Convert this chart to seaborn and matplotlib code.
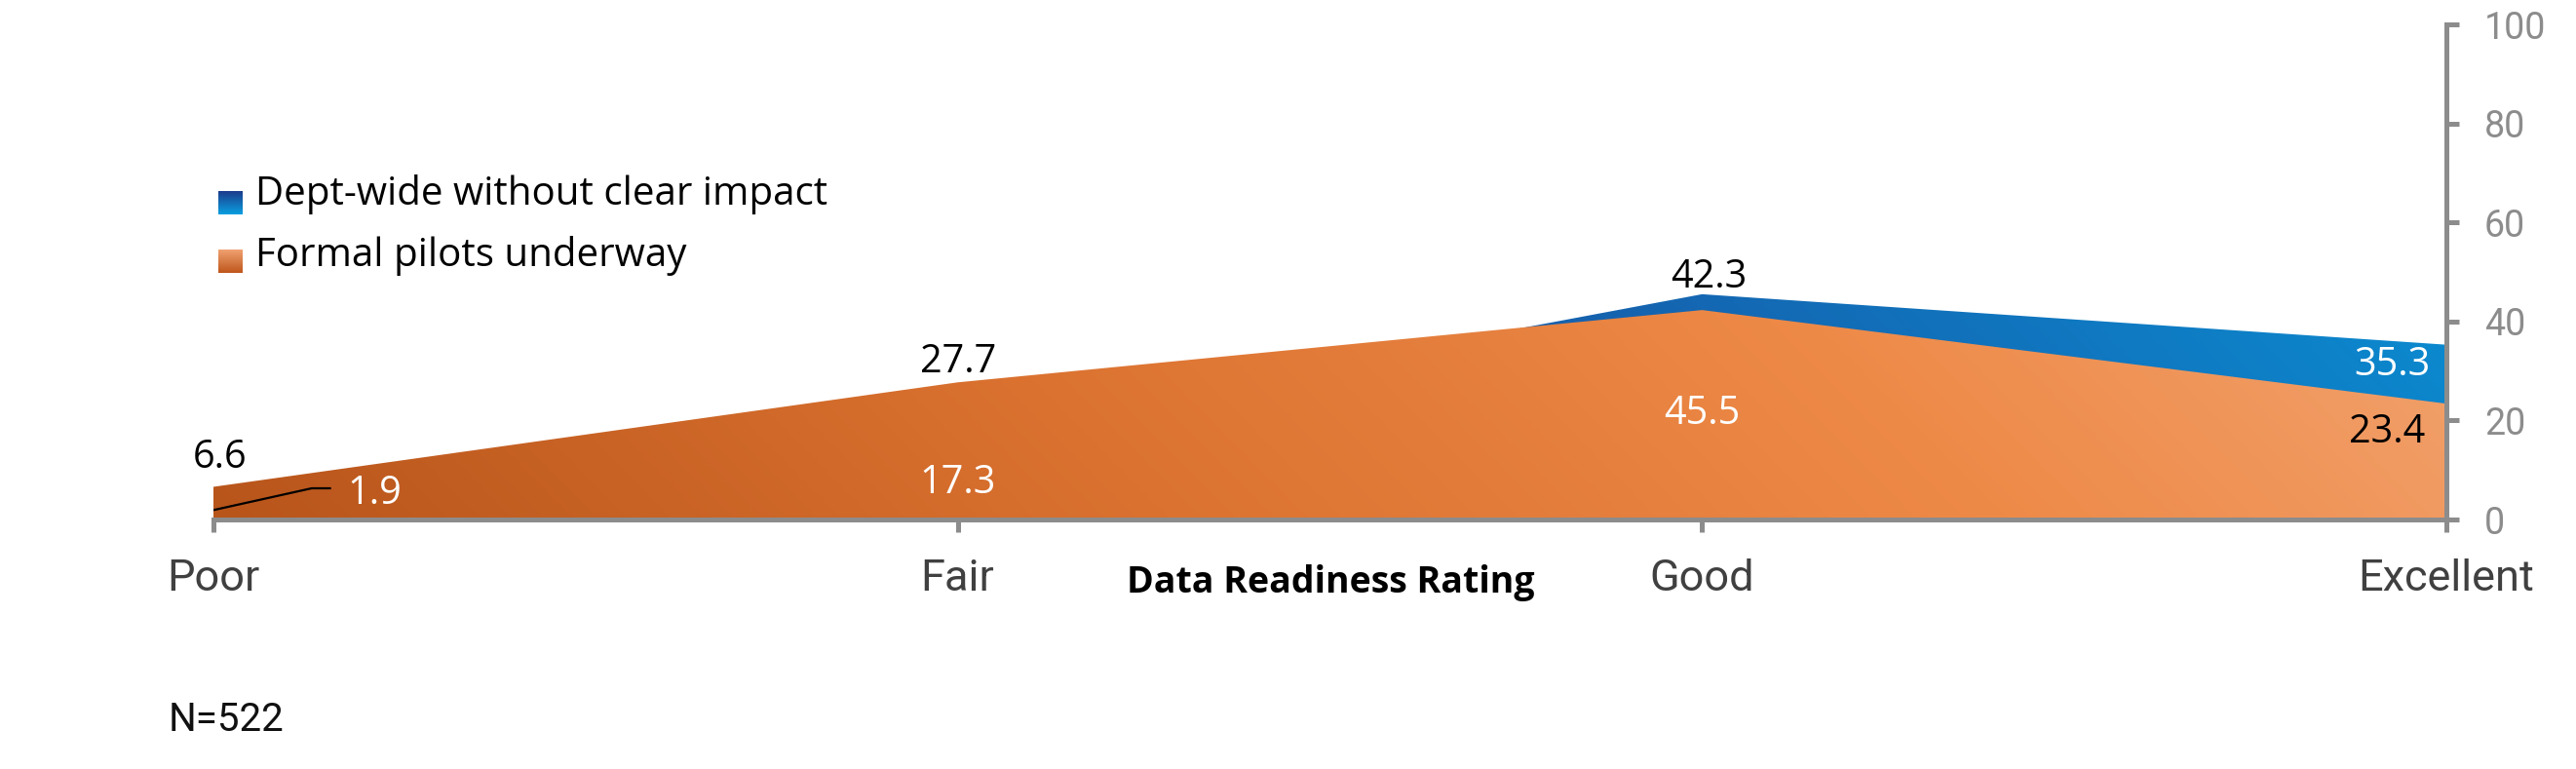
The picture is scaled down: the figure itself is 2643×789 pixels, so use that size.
import numpy as np
import pandas as pd
import matplotlib
matplotlib.use("Agg")
import matplotlib.pyplot as plt
import seaborn as sns
from matplotlib.colors import LinearSegmentedColormap

# ---------------- data ----------------
categories = ["Poor", "Fair", "Good", "Excellent"]
series_names = ["Dept-wide without clear impact", "Formal pilots underway"]
dept_wide = [1.9, 17.3, 45.5, 35.3]
formal_pilots = [6.6, 27.7, 42.3, 23.4]
y_ticks = [0, 20, 40, 60, 80, 100]
x_title = "Data Readiness Rating"
note_text = "N=522"

# label placement (data coords: x, baseline y, ha, colour)
dept_label_pos = [(0.180, 3.1, "left", "white"), (1.0, 5.3, "center", "white"),
                  (2.0, 19.3, "center", "white"), (2.979, 29.1, "right", "white")]
formal_label_pos = [(0.009, 10.4, "center", "black"), (1.0, 29.7, "center", "black"),
                    (2.009, 46.8, "center", "black"), (2.972, 15.5, "right", "black")]

# ---------------- style ----------------
sns.set_theme(style="white")
plt.rcParams["font.family"] = ["Roboto", "DejaVu Sans"]

W, H = 2643, 789
fig = plt.figure(figsize=(W / 100, H / 100), dpi=100)
ax = fig.add_axes([219 / W, 1 - 533 / H, (2510 - 219) / W, (533 - 25) / H])

pos = np.arange(len(categories))
df = pd.DataFrame({
    "pos": np.tile(pos, 2),
    "value": dept_wide + formal_pilots,
    "series": np.repeat(series_names, len(categories)),
})
sns.lineplot(data=df, x="pos", y="value", hue="series",
             palette=["#1565B0", "#E8803F"], linewidth=0, legend=False, ax=ax)

blue_cmap = LinearSegmentedColormap.from_list(
    "b", [(0, "#1E3F8E"), (0.6, "#1564B0"), (1, "#0897DA")])
orange_cmap = LinearSegmentedColormap.from_list(
    "o", [(0, "#B8551B"), (0.35, "#DB7230"), (0.66, "#EE8A48"), (1, "#F3AB7C")])


def gradient_area(name, cmap, zorder):
    sub = df[df["series"] == name]
    poly = ax.fill_between(sub["pos"], 0, sub["value"], facecolor="none",
                           edgecolor="none", zorder=zorder)
    X, Y = np.meshgrid(np.linspace(0, 1, 600), np.linspace(0, 1, 300))
    Z = 0.82 * X + 0.18 * Y
    im = ax.imshow(Z, cmap=cmap, vmin=0, vmax=1, origin="lower", aspect="auto",
                   extent=[0, len(categories) - 1, 0, 100], zorder=zorder,
                   interpolation="bilinear")
    im.set_clip_path(poly.get_paths()[0], transform=ax.transData)


gradient_area(series_names[0], blue_cmap, 1)
gradient_area(series_names[1], orange_cmap, 2)

ax.set_xlim(0, len(categories) - 1)
ax.set_ylim(0, 100)

# leader line for the first dept-wide value
ax.plot([0, 0.132, 0.158], [dept_wide[0], 6.3, 6.3], color="black", lw=1.6,
        zorder=4, solid_capstyle="butt")

val_font = ["Open Sans", "DejaVu Sans"]
for v, (x, y, ha, c) in zip(dept_wide, dept_label_pos):
    ax.text(x, y, f"{v:.1f}", ha=ha, va="baseline", color=c, fontsize=28.5,
            family=val_font, zorder=5)
for v, (x, y, ha, c) in zip(formal_pilots, formal_label_pos):
    ax.text(x, y, f"{v:.1f}", ha=ha, va="baseline", color=c, fontsize=28.5,
            family=val_font, zorder=5)

# axes styling
grey = "#8C8C8C"
for s in ["left", "top"]:
    ax.spines[s].set_visible(False)
for s in ["right", "bottom"]:
    ax.spines[s].set_color(grey)
    ax.spines[s].set_linewidth(3.6)
    ax.spines[s].set_zorder(6)
ax.grid(False)
ax.set_xlabel("")
ax.set_ylabel("")
ax.set_xticks(pos, categories)
ax.yaxis.tick_right()
ax.set_yticks(y_ticks, [str(t) for t in y_ticks])
ax.tick_params(axis="x", bottom=True, direction="out", length=9, width=3.6,
               color=grey, labelsize=32.5, labelcolor="#404040", pad=20)
ax.tick_params(axis="y", right=True, left=False, direction="out", length=9,
               width=3.6, color=grey, labelsize=27, labelcolor=grey, pad=19)

# axis title & note
fig.text(1365 / W, 1 - 608 / H, x_title, ha="center", va="baseline",
         fontsize=27, fontweight="bold", family=["Open Sans", "DejaVu Sans"],
         color="black")
fig.text(173 / W, 1 - 750 / H, note_text, ha="left", va="baseline",
         fontsize=29, color="#111111")

# legend with gradient squares
leg_grad = np.linspace(0, 1, 50)[:, None] * np.ones((1, 50))
sq_blue = LinearSegmentedColormap.from_list("sb", ["#1C3C8C", "#0A9FE0"])
sq_orange = LinearSegmentedColormap.from_list("so", ["#F2A474", "#BF571C"])
for cm, base in [(sq_blue, 220), (sq_orange, 280)]:
    lax = fig.add_axes([224 / W, 1 - base / H, 25 / W, 24 / H])
    lax.imshow(leg_grad, cmap=cm, aspect="auto", origin="upper")
    lax.set_axis_off()
for name, bl in zip(series_names, [210, 273]):
    fig.text(262 / W, 1 - bl / H, name, ha="left", va="baseline", fontsize=29,
             family=["Open Sans", "DejaVu Sans"], color="black")

fig.savefig("out.png", dpi=100, facecolor="white")
